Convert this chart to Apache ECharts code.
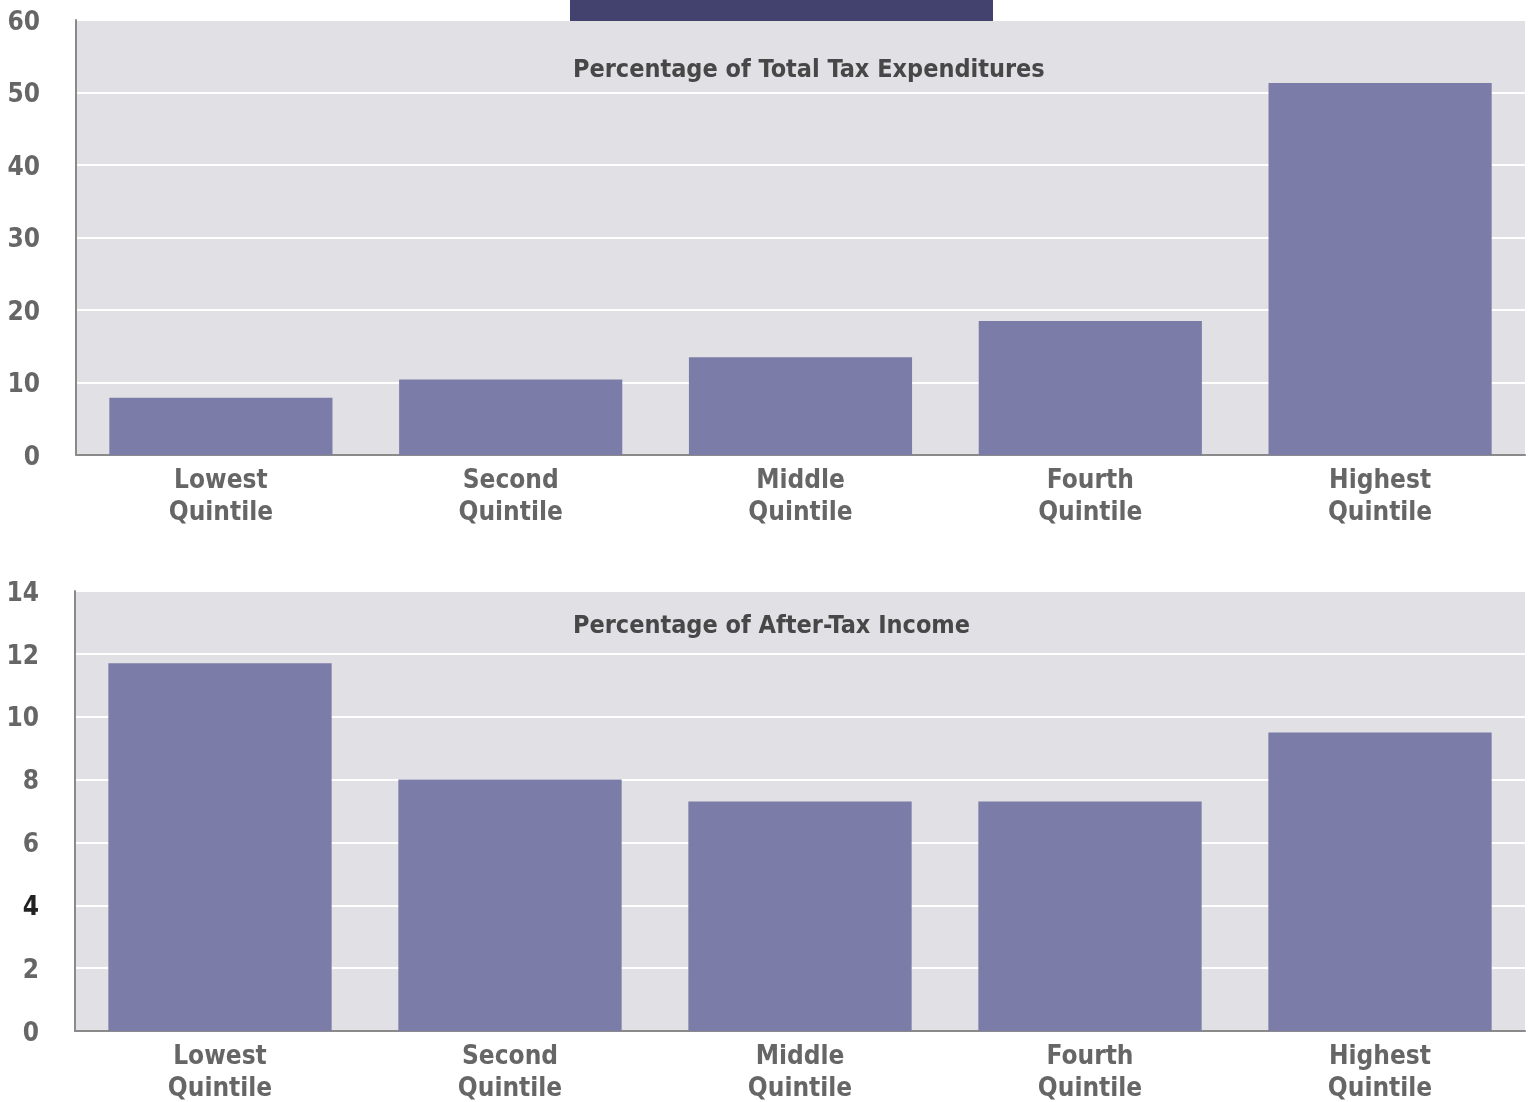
<!DOCTYPE html>
<html>
<head>
<meta charset="utf-8">
<script src="https://cdn.jsdelivr.net/npm/echarts@6/dist/echarts.min.js"></script>
<style>
html,body{margin:0;padding:0;background:#fff;}
#chart{width:1531px;height:1102px;}
</style>
</head>
<body>
<div id="chart"></div>
<script>
const categories = ['Lowest\nQuintile', 'Second\nQuintile', 'Middle\nQuintile', 'Fourth\nQuintile', 'Highest\nQuintile'];
const taxExpenditureShare = [7.9, 10.4, 13.5, 18.5, 51.3];
const afterTaxIncomeShare = [11.7, 8.0, 7.3, 7.3, 9.5];
const panelTitles = ['Percentage of Total Tax Expenditures', 'Percentage of After-Tax Income'];
const yTicks1 = { min: 0, max: 60, interval: 10 };
const yTicks2 = { min: 0, max: 14, interval: 2 };

const FONT = "'Liberation Sans Narrow', 'DejaVu Sans Condensed', 'Roboto Condensed', 'Noto Sans', sans-serif";
const BAR = '#7b7ca8';
const PLOT_BG = '#e0e0e5';
const AXIS = '#8a8a8a';
const LABEL = '#666666';

const chart = echarts.init(document.getElementById('chart'), null, { renderer: 'canvas' });

function xAxis(gridIndex) {
  return {
    type: 'category', gridIndex, data: categories,
    axisLine: { show: true, lineStyle: { color: AXIS, width: 2 } },
    axisTick: { show: false },
    axisLabel: { color: LABEL, fontFamily: FONT, fontWeight: 'bold', fontSize: 26, lineHeight: 32, margin: 10, interval: 0 },
    splitLine: { show: false }
  };
}
function yAxis(gridIndex, t, darkFour) {
  return {
    type: 'value', gridIndex, min: t.min, max: t.max, interval: t.interval,
    axisLine: { show: true, lineStyle: { color: AXIS, width: 2 } },
    axisTick: { show: false },
    axisLabel: {
      fontFamily: FONT, fontWeight: 'bold', fontSize: 26, margin: 36, color: LABEL,
      padding: [6, 0, 0, 0],
      formatter: v => (darkFour && v === 4) ? '{d|' + v + '}' : '{n|' + v + '}',
      rich: {
        n: { color: LABEL, fontFamily: FONT, fontWeight: 'bold', fontSize: 26 },
        d: { color: '#222', fontFamily: FONT, fontWeight: 'bold', fontSize: 26 }
      }
    },
    splitLine: { show: true, lineStyle: { color: '#ffffff', width: 2 } }
  };
}

chart.setOption({
  animation: false,
  backgroundColor: '#ffffff',
  title: [
    { text: panelTitles[0], left: 573, top: 58, padding: 0,
      textStyle: { color: '#474747', fontFamily: FONT, fontWeight: 'bold', fontSize: 25 } },
    { text: panelTitles[1], left: 573, top: 614, padding: 0,
      textStyle: { color: '#474747', fontFamily: FONT, fontWeight: 'bold', fontSize: 25 } }
  ],
  graphic: [
    { type: 'rect', left: 570, top: 0, z: 100, shape: { width: 423, height: 21 }, style: { fill: '#43426f' } }
  ],
  grid: [
    { left: 76, right: 6, top: 20, height: 435, show: true, backgroundColor: PLOT_BG, borderWidth: 0, outerBoundsMode: 'none', containLabel: false },
    { left: 75, right: 6, top: 591, height: 440, show: true, backgroundColor: PLOT_BG, borderWidth: 0, outerBoundsMode: 'none', containLabel: false }
  ],
  xAxis: [xAxis(0), xAxis(1)],
  yAxis: [yAxis(0, yTicks1, false), yAxis(1, yTicks2, true)],
  series: [
    { type: 'bar', xAxisIndex: 0, yAxisIndex: 0, data: taxExpenditureShare, barWidth: '77%', itemStyle: { color: BAR } },
    { type: 'bar', xAxisIndex: 1, yAxisIndex: 1, data: afterTaxIncomeShare, barWidth: '77%', itemStyle: { color: BAR } }
  ]
});
</script>
</body>
</html>
